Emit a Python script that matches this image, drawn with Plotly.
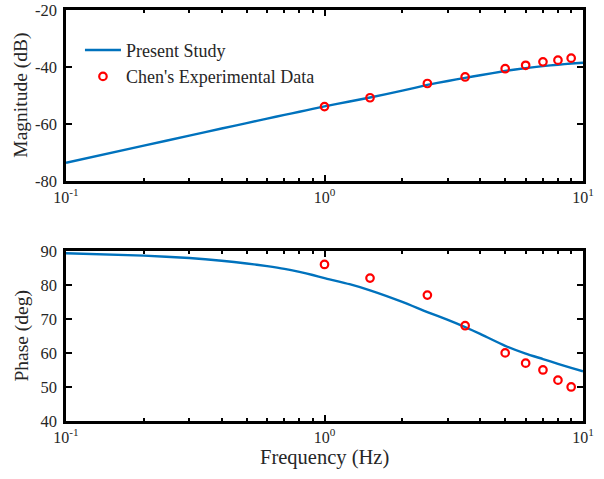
import plotly.graph_objects as go

# Model curve ("Present Study")
f_line = [0.1, 0.2, 0.3, 0.4, 0.5, 0.6, 0.7, 0.8, 0.9, 1, 1.25, 1.5, 2, 2.5, 3, 3.5, 4, 5, 6, 7, 8, 9, 10]
mag_line = [-73.6, -67.6, -64.1, -61.6, -59.7, -58.1, -56.8, -55.7, -54.7, -53.8, -52.1, -50.7,
            -48.3, -46.3, -44.9, -43.8, -42.9, -41.4, -40.4, -39.7, -39.2, -38.8, -38.5]
phase_line = [89.3, 88.6, 87.9, 87.1, 86.3, 85.5, 84.7, 83.8, 82.9, 82.0, 80.2, 78.4, 75.0,
              72.0, 69.7, 67.6, 65.6, 62.1, 59.8, 58.2, 56.8, 55.6, 54.6]

# Experimental data
f_exp = [1, 1.5, 2.5, 3.5, 5, 6, 7, 8, 9]
mag_exp = [-53.9, -50.8, -45.8, -43.5, -40.6, -39.4, -38.2, -37.6, -36.9]
phase_exp = [86, 82, 77, 68, 60, 57, 55, 52, 50]

x_tickvals = [0.1, 1, 10]
x_ticktext = ["10<sup>-1</sup>", "10<sup>0</sup>", "10<sup>1</sup>"]
x_minor = [0.2, 0.3, 0.4, 0.5, 0.6, 0.7, 0.8, 0.9, 2, 3, 4, 5, 6, 7, 8, 9]
mag_ticks = [-80, -60, -40, -20]
phase_ticks = [40, 50, 60, 70, 80, 90]

BLUE = "#0072BD"
FONT = "Liberation Serif"
TXT = "#262626"

line_style = dict(color=BLUE, width=2.4, shape="spline", smoothing=0.5)
marker_style = dict(symbol="circle-open", size=7.5, color="red",
                    line=dict(color="red", width=2.2))

fig = go.Figure()
fig.add_trace(go.Scatter(x=f_line, y=mag_line, mode="lines", name="Present Study",
                         line=line_style, xaxis="x", yaxis="y"))
fig.add_trace(go.Scatter(x=f_exp, y=mag_exp, mode="markers", name="Chen's Experimental Data",
                         marker=marker_style, xaxis="x", yaxis="y"))
fig.add_trace(go.Scatter(x=f_line, y=phase_line, mode="lines", showlegend=False,
                         line=line_style, xaxis="x2", yaxis="y2"))
fig.add_trace(go.Scatter(x=f_exp, y=phase_exp, mode="markers", showlegend=False,
                         marker=marker_style, xaxis="x2", yaxis="y2"))

common_x = dict(type="log", range=[-1, 1], tickmode="array", tickvals=x_tickvals,
                ticktext=x_ticktext, ticks="inside", ticklen=6, tickwidth=2, tickcolor="black",
                showline=True, linecolor="black", linewidth=2.6, mirror="allticks",
                showgrid=False, zeroline=False, automargin=False, ticklabelstandoff=0,
                tickfont=dict(family=FONT, size=16, color=TXT),
                minor=dict(tickmode="array", tickvals=x_minor, ticks="inside", ticklen=3,
                           tickwidth=1.5, tickcolor="black", showgrid=False))

common_y = dict(ticks="inside", ticklen=6, tickwidth=2, tickcolor="black",
                showline=True, linecolor="black", linewidth=2.6, mirror="allticks",
                showgrid=False, zeroline=False, ticklabelstandoff=3, automargin=False,
                tickfont=dict(family=FONT, size=16.5, color=TXT))

fig.update_layout(
    width=604, height=479,
    margin=dict(l=66, r=21, t=10, b=58),
    paper_bgcolor="white", plot_bgcolor="white",
    font=dict(family=FONT, size=17, color=TXT),
    xaxis=dict(domain=[0, 1], anchor="y", **common_x),
    yaxis=dict(domain=[0.584, 1], anchor="x", range=[-80, -20], tickmode="array",
               tickvals=mag_ticks, ticktext=[str(v) for v in mag_ticks], **common_y),
    xaxis2=dict(domain=[0, 1], anchor="y2", **common_x),
    yaxis2=dict(domain=[0, 0.414], anchor="x2", range=[40, 90], tickmode="array",
                tickvals=phase_ticks, ticktext=[str(v) for v in phase_ticks], **common_y),
    legend=dict(x=0.027, y=0.947, xanchor="left", yanchor="top", bgcolor="rgba(0,0,0,0)",
                font=dict(family=FONT, size=18, color=TXT), tracegroupgap=0,
                itemwidth=36),
    showlegend=True,
)

# Axis titles (placed as annotations for exact positioning)
fig.add_annotation(text="Magnitude (dB)", xref="paper", yref="paper", x=-0.087, y=0.7917,
                   xanchor="center", yanchor="middle", textangle=-90, showarrow=False,
                   font=dict(family=FONT, size=19.5, color=TXT))
fig.add_annotation(text="Phase (deg)", xref="paper", yref="paper", x=-0.087, y=0.208,
                   xanchor="center", yanchor="middle", textangle=-90, showarrow=False,
                   font=dict(family=FONT, size=19.5, color=TXT))
fig.add_annotation(text="Frequency (Hz)", xref="paper", yref="paper", x=0.5, y=-0.088,
                   xanchor="center", yanchor="middle", showarrow=False,
                   font=dict(family=FONT, size=20.5, color=TXT))

fig.write_html("out.html")
